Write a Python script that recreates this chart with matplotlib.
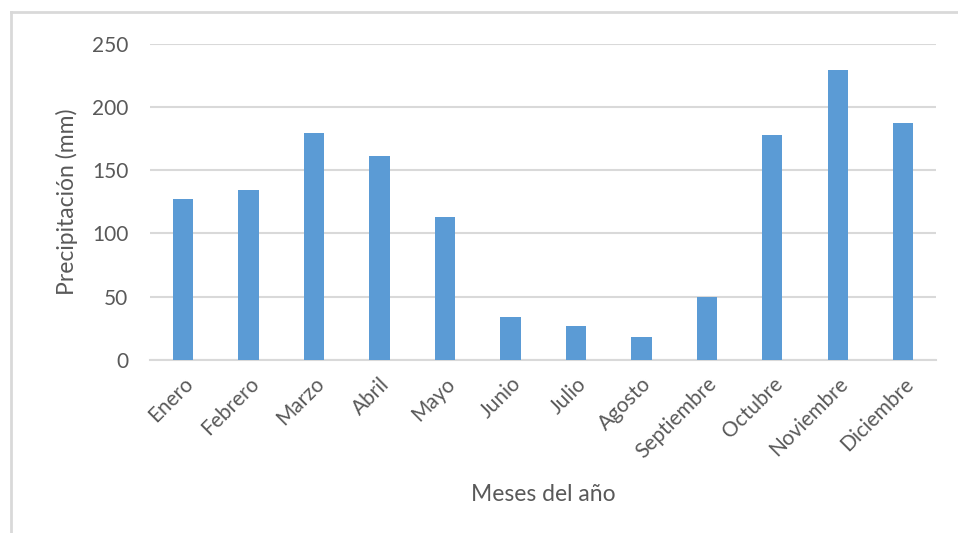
import matplotlib.pyplot as plt
from matplotlib.lines import Line2D

plt.rcParams['font.family'] = ['Lato', 'DejaVu Sans']

meses = ['Enero', 'Febrero', 'Marzo', 'Abril', 'Mayo', 'Junio', 'Julio',
         'Agosto', 'Septiembre', 'Octubre', 'Noviembre', 'Diciembre']
precipitacion = [127, 134, 179, 161, 113, 34, 27, 18, 50, 178, 229.5, 187]
yticks = [0, 50, 100, 150, 200, 250]

gris = '#595959'
fig = plt.figure(figsize=(9.58, 5.33), dpi=100, facecolor='white')
ax = fig.add_axes([0.157, 0.325, 0.82, 0.593])

ax.bar(range(len(meses)), precipitacion, width=0.31, color='#5b9bd5', zorder=3)
ax.set_xlim(-0.5, len(meses) - 0.5)
ax.set_ylim(0, 250)
ax.set_yticks(yticks)
ax.yaxis.grid(True, color='#d9d9d9', linewidth=1.5, zorder=0)
ax.set_axisbelow(True)
for s in ['left', 'right', 'top']:
    ax.spines[s].set_visible(False)
ax.spines['bottom'].set_color('#d9d9d9')
ax.spines['bottom'].set_linewidth(1.5)
ax.tick_params(length=0, labelsize=15, colors=gris)
ax.tick_params(axis='y', pad=16)

ax.set_xticks(range(len(meses)))
ax.set_xticklabels(meses, rotation=45, ha='right', rotation_mode='anchor')
ax.tick_params(axis='x', pad=10)

ax.set_ylabel('Precipitación (mm)', fontsize=16.5, color=gris, labelpad=10)
ax.set_xlabel('Meses del año', fontsize=16.5, color=gris, labelpad=16)

# chart area border (left + top, as in the cropped screenshot)
fig.add_artist(Line2D([0.012, 0.012], [0.0, 0.978], color='#d9d9d9', lw=2))
fig.add_artist(Line2D([0.012, 1.0], [0.978, 0.978], color='#d9d9d9', lw=2))

plt.savefig('out.png', dpi=100)
